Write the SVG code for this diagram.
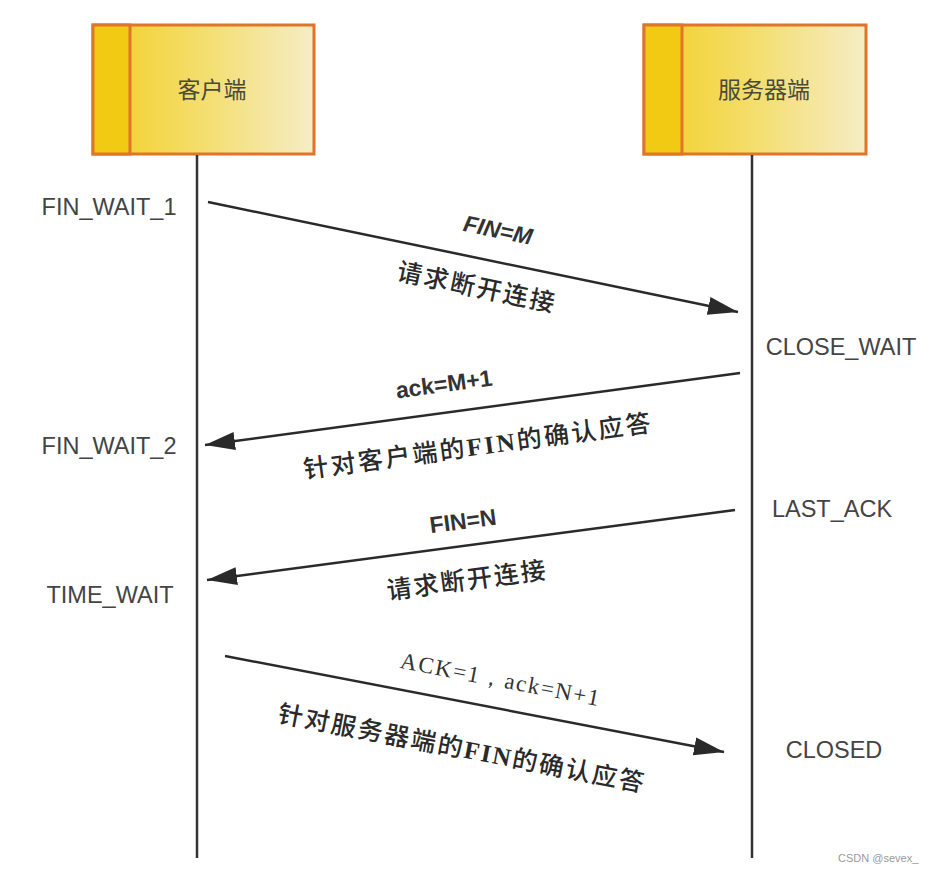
<svg xmlns="http://www.w3.org/2000/svg" width="931" height="873" viewBox="0 0 931 873">
<style>
.box{stroke:#E0742A;stroke-width:3}
.strip{fill:#F2C913;stroke:#E0742A;stroke-width:3}
.title{font-family:"Noto Sans CJK SC","Liberation Sans",sans-serif;font-size:23px;fill:#4a4a3a;text-anchor:middle}
.state{font-family:"Liberation Sans",Arial,sans-serif;font-size:23.5px;fill:#444;text-anchor:middle}
.life{stroke:#333;stroke-width:2.5;fill:none}
.msg{stroke:#2a2a2a;stroke-width:2.5;fill:none;marker-end:url(#arr)}
.lbl{font-family:"Liberation Sans",Arial,sans-serif;font-weight:bold;font-size:23px;fill:#333;text-anchor:middle}
.cn{font-family:"Liberation Serif","Noto Sans CJK SC",serif;font-size:25px;font-weight:500;fill:#2a2a2a;text-anchor:middle}
.b{font-weight:bold}
.ser{font-family:"Liberation Serif","Times New Roman",serif;font-size:23px;fill:#333;text-anchor:middle}
.wm{font-family:"Liberation Sans",Arial,sans-serif;font-size:11px;fill:#999}
</style>
<defs>
<linearGradient id="g" x1="0" y1="0" x2="1" y2="0">
<stop offset="0" stop-color="#F3CE22"/>
<stop offset="0.5" stop-color="#F4DE6E"/>
<stop offset="1" stop-color="#F5EDC6"/>
</linearGradient>
<marker id="arr" markerUnits="userSpaceOnUse" markerWidth="32" markerHeight="20" refX="30" refY="10" orient="auto" viewBox="0 0 32 20">
<path d="M0,1 L30,10 L0,19 z" fill="#2a2a2a"/>
</marker>
</defs>
<rect width="931" height="873" fill="#fff"/>
<g id="client">
<rect class="box" x="93" y="25" width="221" height="129" fill="url(#g)"/>
<rect class="strip" x="93" y="25" width="37" height="129"/>
<text class="title" x="212" y="98">客户端</text>
</g>
<g id="server">
<rect class="box" x="644" y="25" width="222" height="129" fill="url(#g)"/>
<rect class="strip" x="644" y="25" width="38" height="129"/>
<text class="title" x="764" y="98">服务器端</text>
</g>
<g id="lifelines">
<line class="life" x1="197" y1="155" x2="197" y2="858"/>
<line class="life" x1="752" y1="155" x2="752" y2="858"/>
</g>
<g id="states">
<text class="state" x="109" y="215">FIN_WAIT_1</text>
<text class="state" x="109" y="454">FIN_WAIT_2</text>
<text class="state" x="110" y="603">TIME_WAIT</text>
<text class="state" x="841" y="355">CLOSE_WAIT</text>
<text class="state" x="832" y="517">LAST_ACK</text>
<text class="state" x="834" y="758">CLOSED</text>
</g>
<g id="connectors">
<line class="msg" x1="208" y1="202" x2="738" y2="312"/>
<line class="msg" x1="740" y1="373" x2="205" y2="445"/>
<line class="msg" x1="735" y1="510" x2="207" y2="580"/>
<line class="msg" x1="225" y1="656" x2="724" y2="752"/>
</g>
<g id="labels">
<text class="lbl" font-style="italic" transform="translate(498,230) rotate(11.7)" y="8">FIN=M</text>
<text class="cn" transform="translate(476,287) rotate(11.7)" y="9" textLength="160" lengthAdjust="spacing">请求断开连接</text>
<text class="lbl" transform="translate(444,384) rotate(-7.7)" y="8">ack=M+1</text>
<text class="cn" transform="translate(477,446) rotate(-7.7)" y="9" textLength="350" lengthAdjust="spacing">针对客户端的<tspan class="b">FIN</tspan>的确认应答</text>
<text class="lbl" transform="translate(463,521) rotate(-7.6)" y="8">FIN=N</text>
<text class="cn" transform="translate(466,580) rotate(-7.6)" y="9" textLength="160" lengthAdjust="spacing">请求断开连接</text>
<text class="ser" transform="translate(500,679) rotate(10.9)" y="8" textLength="202" lengthAdjust="spacing">ACK=1，ack=N+1</text>
<text class="cn" transform="translate(461,748) rotate(10.9)" y="9" textLength="372" lengthAdjust="spacing">针对服务器端的<tspan class="b">FIN</tspan>的确认应答</text>
</g>
<text class="wm" x="838" y="862">CSDN @sevex_</text>
</svg>
